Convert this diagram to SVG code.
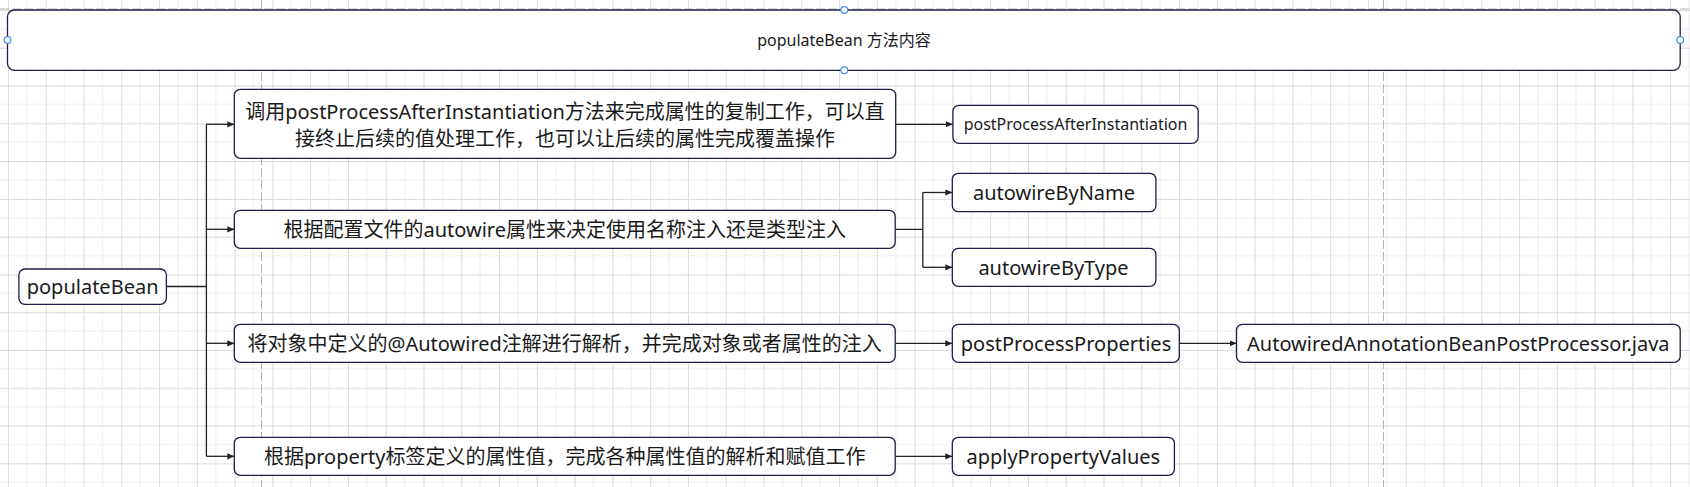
<svg xmlns="http://www.w3.org/2000/svg" width="1690" height="487" viewBox="0 0 1690 487">
<defs>
<style>
.box{fill:#ffffff;stroke:#1c1f4a;stroke-width:1.3}
.t{font-family:"Noto Sans","Noto Sans CJK SC",sans-serif;font-size:20px;fill:#1a1a1a;text-anchor:middle}
.s{font-size:16px}
.edge{fill:none;stroke:#222222;stroke-width:1.3}
.arr{marker-end:url(#ah)}
.page{stroke:#b5b5b5;stroke-width:1;stroke-dasharray:9 3;fill:none}
.handle{fill:#ffffff;stroke:#4a90f0;stroke-width:1.2}
</style>
<marker id="ah" markerUnits="userSpaceOnUse" viewBox="0 0 7 7" refX="7" refY="3.5" markerWidth="7" markerHeight="7" orient="auto">
<path d="M0,0.4 L7,3.5 L0,6.6 Z" fill="#222222"/>
</marker>
<pattern id="grid" patternUnits="userSpaceOnUse" x="7.9" y="10" width="37.78" height="37.78">
<path d="M18.89,0 V37.78 M0,18.89 H37.78" stroke="#ececec" stroke-width="1" fill="none"/>
<path d="M0.5,0 V37.78 M0,0.5 H37.78" stroke="#dadada" stroke-width="1" fill="none"/>
</pattern>
</defs>
<rect x="0" y="0" width="1690" height="487" fill="#ffffff"/>
<rect x="0" y="0" width="1690" height="487" fill="url(#grid)"/>
<path class="page" d="M261.5,0 V487 M1383.5,0 V487 M0,9 H1690"/>

<g id="connectors">
<path class="edge" d="M166.4,286.5 H206.4 M206.4,124.3 V456.3"/>
<path class="edge arr" d="M206.4,124.3 H234.3"/>
<path class="edge arr" d="M206.4,229.3 H234.3"/>
<path class="edge arr" d="M206.4,343.3 H234.3"/>
<path class="edge arr" d="M206.4,456.3 H234.3"/>
<path class="edge arr" d="M895.7,124.3 H952.9"/>
<path class="edge" d="M895.2,229.3 H922.8 M922.8,192.5 V267.3"/>
<path class="edge arr" d="M922.8,192.5 H952.3"/>
<path class="edge arr" d="M922.8,267.3 H952.3"/>
<path class="edge arr" d="M895.2,343.3 H952.3"/>
<path class="edge arr" d="M1179.3,343.3 H1236.5"/>
<path class="edge arr" d="M895.2,456.3 H952.3"/>
</g>

<g id="title">
<rect class="box" x="7.5" y="10" width="1672.7" height="60.3" rx="7"/>
<text class="t s" x="844" y="46">populateBean 方法内容</text>
<circle class="handle" cx="844.3" cy="10" r="3.4"/>
<circle class="handle" cx="844.3" cy="70.3" r="3.4"/>
<circle class="handle" cx="7.5" cy="40" r="3.4"/>
<circle class="handle" cx="1680.2" cy="40" r="3.4"/>
</g>

<g id="populateBean">
<rect class="box" x="18.9" y="269" width="147.5" height="35.3" rx="6"/>
<text class="t" x="92.6" y="293.5">populateBean</text>
</g>

<g id="stepA">
<rect class="box" x="234.3" y="89.3" width="661.4" height="69" rx="6"/>
<text class="t" x="565" y="118.8">调用postProcessAfterInstantiation方法来完成属性的复制工作，可以直</text>
<text class="t" x="565" y="146.2">接终止后续的值处理工作，也可以让后续的属性完成覆盖操作</text>
</g>

<g id="postProcessAfterInstantiation">
<rect class="box" x="952.9" y="105.3" width="245.3" height="38" rx="6"/>
<text class="t s" x="1075.5" y="130">postProcessAfterInstantiation</text>
</g>

<g id="stepB">
<rect class="box" x="234.3" y="210.3" width="660.9" height="38" rx="6"/>
<text class="t" x="564.7" y="236.5">根据配置文件的autowire属性来决定使用名称注入还是类型注入</text>
</g>

<g id="autowireByName">
<rect class="box" x="952.3" y="173.3" width="203.6" height="38.4" rx="6"/>
<text class="t" x="1054" y="199.7">autowireByName</text>
</g>

<g id="autowireByType">
<rect class="box" x="952.3" y="248.3" width="203.6" height="38" rx="6"/>
<text class="t" x="1053.5" y="274.5">autowireByType</text>
</g>

<g id="stepC">
<rect class="box" x="234.3" y="324.3" width="660.9" height="38" rx="6"/>
<text class="t" x="564.7" y="350.5">将对象中定义的@Autowired注解进行解析，并完成对象或者属性的注入</text>
</g>

<g id="postProcessProperties">
<rect class="box" x="952.3" y="324.3" width="227" height="38" rx="6"/>
<text class="t" x="1066" y="350.5">postProcessProperties</text>
</g>

<g id="AutowiredAnnotationBeanPostProcessor">
<rect class="box" x="1236.5" y="324.3" width="443.7" height="38" rx="6"/>
<text class="t" x="1458.3" y="350.5">AutowiredAnnotationBeanPostProcessor.java</text>
</g>

<g id="stepD">
<rect class="box" x="234.3" y="437.3" width="660.9" height="38" rx="6"/>
<text class="t" x="564.7" y="463.5">根据property标签定义的属性值，完成各种属性值的解析和赋值工作</text>
</g>

<g id="applyPropertyValues">
<rect class="box" x="952.3" y="437.3" width="222.1" height="38" rx="6"/>
<text class="t" x="1063.3" y="463.5">applyPropertyValues</text>
</g>
</svg>
